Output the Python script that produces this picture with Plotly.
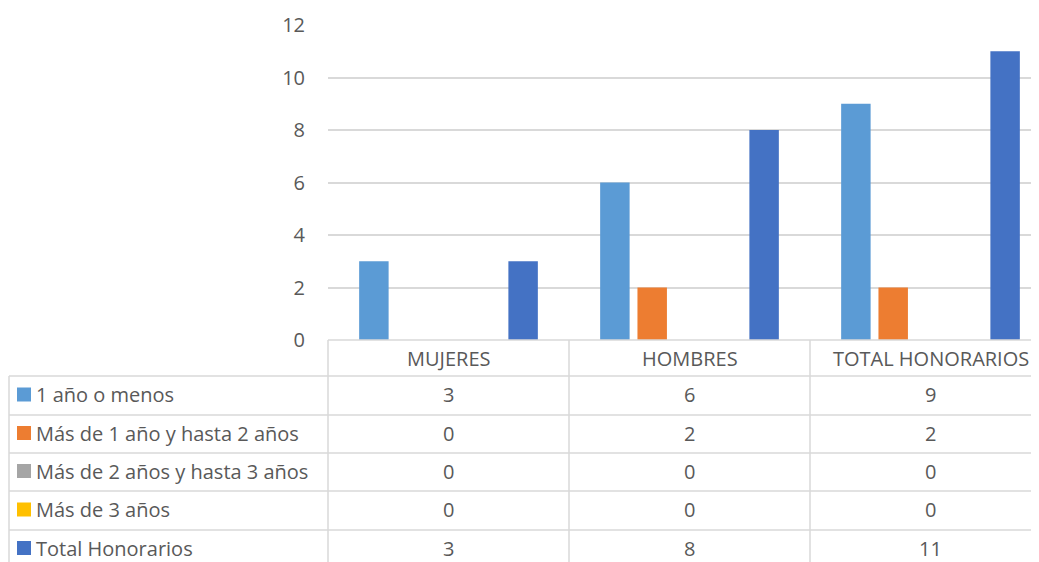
import plotly.graph_objects as go

categories = ["MUJERES", "HOMBRES", "TOTAL HONORARIOS"]
series_names = ["1 año o menos", "Más de 1 año y hasta 2 años",
                "Más de 2 años y hasta 3 años", "Más de 3 años", "Total Honorarios"]
v_menos1 = [3, 6, 9]
v_1a2 = [0, 2, 2]
v_2a3 = [0, 0, 0]
v_mas3 = [0, 0, 0]
v_total = [3, 8, 11]
series_values = [v_menos1, v_1a2, v_2a3, v_mas3, v_total]
colors = ["#5B9BD5", "#ED7D31", "#A5A5A5", "#FFC000", "#4472C4"]
y_ticks = [0, 2, 4, 6, 8, 10, 12]

OFF = 8  # page body margin
W, H = 1039 - OFF, 562 - OFF
L, T, B = 328 - OFF, 25 - OFF, 340 - OFF  # plot area pixel edges (figure coords)
CW = 241  # category width in px
FONT = "'Open Sans', Lato, sans-serif"
TXT = "#595959"
GRID = "#D9D9D9"
FS = 20


def px(x):
    # screen pixel -> paper
    return (x - OFF - L) / (W - L)


def py(y):
    return (B - (y - OFF)) / (B - T)


fig = go.Figure()
for name, vals, c in zip(series_names, series_values, colors):
    fig.add_trace(go.Bar(x=list(range(len(categories))), y=vals, name=name,
                         marker=dict(color=c, line=dict(width=0)), showlegend=False))

span = (W - L) / CW
fig.update_layout(
    width=W, height=H,
    margin=dict(l=L, r=0, t=T, b=H - B, pad=0),
    paper_bgcolor="white", plot_bgcolor="white",
    barmode="group", bargap=0.226, bargroupgap=0.21,
    font=dict(family=FONT, color=TXT, size=FS),
    xaxis=dict(range=[-0.5, -0.5 + span], showticklabels=False, showgrid=False,
               zeroline=False, showline=False, ticks=""),
    yaxis=dict(range=[0, 12], tickvals=y_ticks, showgrid=True, gridcolor=GRID,
               gridwidth=1.5, zeroline=False, showline=False, ticks="",
               ticklabelstandoff=22, tickfont=dict(size=FS, color=TXT, family=FONT)),
)

# table geometry (screen pixels)
row_lines = [376, 415, 453, 491, 530, 568]
left_edge = 9
LINE = dict(color=GRID, width=1.5)
shapes = []
shapes.append(dict(type="line", xref="paper", yref="paper", x0=0, x1=1.05,
                   y0=py(340), y1=py(340), line=LINE))
for yl in row_lines[:-1]:
    shapes.append(dict(type="line", xref="paper", yref="paper", x0=px(left_edge), x1=1.05,
                       y0=py(yl), y1=py(yl), line=LINE))
shapes.append(dict(type="line", xref="paper", yref="paper", x0=px(left_edge), x1=px(left_edge),
                   y0=py(376), y1=py(600), line=LINE))
for k in range(len(categories)):
    xb = 328 + CW * k
    shapes.append(dict(type="line", xref="paper", yref="paper", x0=px(xb), x1=px(xb),
                       y0=py(340), y1=py(600), line=LINE))

annotations = []
for i, cat in enumerate(categories):
    annotations.append(dict(x=i, xref="x", y=py(358), yref="paper", text=cat,
                            showarrow=False, font=dict(size=FS, color=TXT, family=FONT),
                            xanchor="center", yanchor="middle"))
for r, (name, vals, c) in enumerate(zip(series_names, series_values, colors)):
    yc = (row_lines[r] + row_lines[r + 1]) / 2 - 1
    shapes.append(dict(type="rect", xref="paper", yref="paper", xsizemode="pixel",
                       ysizemode="pixel", xanchor=px(24), yanchor=py(yc),
                       x0=-7, x1=7, y0=-7, y1=7, fillcolor=c, line=dict(width=0)))
    annotations.append(dict(x=px(34), xref="paper", y=py(yc), yref="paper", text=name,
                            showarrow=False, xanchor="left", yanchor="middle",
                            font=dict(size=FS, color=TXT, family=FONT)))
    for i, v in enumerate(vals):
        annotations.append(dict(x=i, xref="x", y=py(yc), yref="paper", text=str(v),
                                showarrow=False, xanchor="center", yanchor="middle",
                                font=dict(size=FS, color=TXT, family=FONT)))

fig.update_layout(shapes=shapes, annotations=annotations)
fig.write_html("out.html")
